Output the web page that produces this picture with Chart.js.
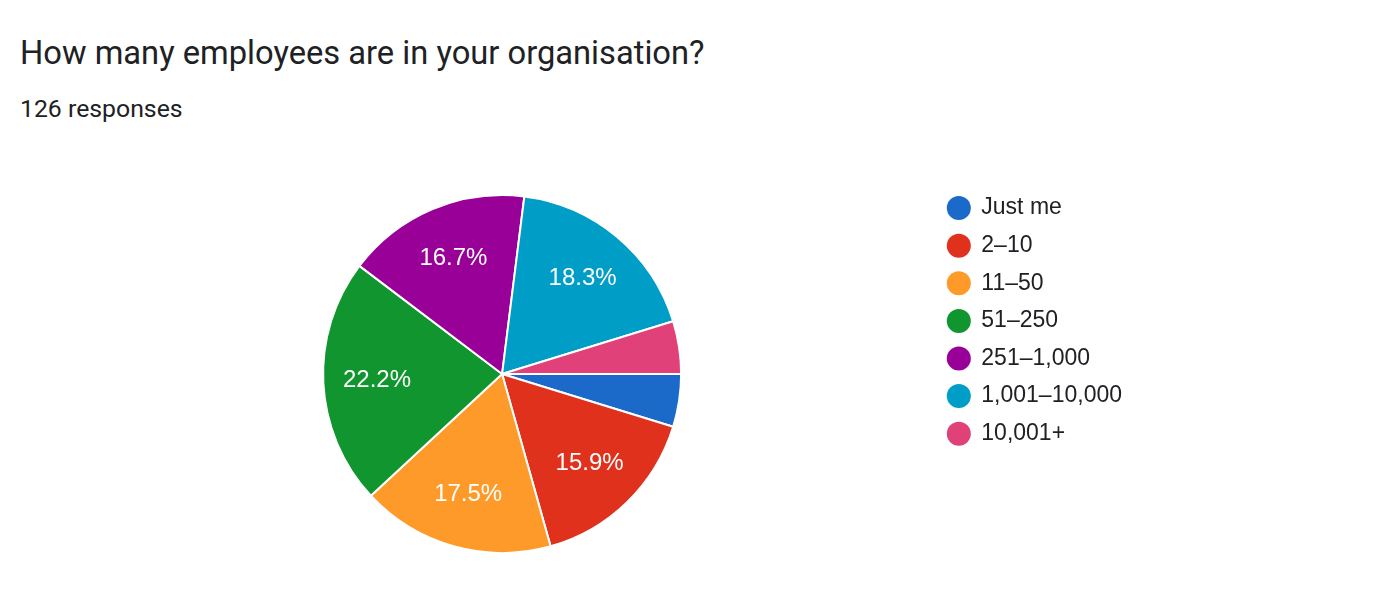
<!DOCTYPE html>
<html>
<head>
<meta charset="utf-8">
<script src="https://cdn.jsdelivr.net/npm/chart.js@4"></script>
<style>
  html, body { margin: 0; padding: 0; background: #fff; }
  body { width: 1390px; height: 596px; position: relative; overflow: hidden; }
  .title, .subtitle { position: absolute; left: 20px; color: #202124; font-family: Roboto, "Noto Sans", sans-serif; line-height: 1; white-space: nowrap; }
  .title { top: 37px; font-size: 32.7px; }
  .subtitle { top: 97.4px; font-size: 24.8px; }
  #chart { position: absolute; left: 0; top: 0; }
</style>
</head>
<body>
  <div class="title">How many employees are in your organisation?</div>
  <div class="subtitle">126 responses</div>
  <canvas id="chart" width="1390" height="596"></canvas>

  <script>
    // Data
    const categories = ["Just me", "2–10", "11–50", "51–250", "251–1,000", "1,001–10,000", "10,001+"];
    const responses = [6, 20, 22, 28, 21, 23, 6];
    const sliceColors = ["#1b69c9", "#e0311c", "#fe9a2a", "#11962f", "#980098", "#009dc6", "#e04178"];

    // Percentage labels inside big slices
    const sliceLabels = {
      id: "sliceLabels",
      afterDatasetsDraw(chart) {
        const { ctx } = chart;
        const values = chart.data.datasets[0].data;
        const total = values.reduce((a, b) => a + b, 0);
        ctx.save();
        ctx.font = "24px 'Liberation Sans', Arial, sans-serif";
        ctx.fillStyle = "#fff";
        ctx.textAlign = "center";
        ctx.textBaseline = "middle";
        chart.getDatasetMeta(0).data.forEach((arc, i) => {
          const pct = values[i] / total * 100;
          if (pct < 5) return;
          const { x, y, startAngle, endAngle, outerRadius } = arc.getProps(["x", "y", "startAngle", "endAngle", "outerRadius"], true);
          const mid = (startAngle + endAngle) / 2;
          const r = outerRadius * 0.7;
          ctx.fillText(pct.toFixed(1) + "%", x + Math.cos(mid) * r, y + Math.sin(mid) * r);
        });
        ctx.restore();
      }
    };

    const ctx = document.getElementById("chart").getContext("2d");
    new Chart(ctx, {
      type: "pie",
      data: {
        labels: categories,
        datasets: [{
          data: responses,
          backgroundColor: sliceColors,
          borderColor: "#fff",
          borderWidth: 2,
          radius: 179,
        }],
      },
      options: {
        responsive: false,
        animation: false,
        rotation: 90,
        layout: { padding: { left: 71, right: 258, top: 182, bottom: 30 } },
        plugins: {
          tooltip: { enabled: false },
          legend: {
            position: "right",
            align: "start",
            labels: {
              usePointStyle: true,
              pointStyle: "circle",
              boxWidth: 22,
              boxHeight: 17,
              padding: 14.6,
              color: "#202124",
              font: { family: "'Liberation Sans', Arial, sans-serif", size: 23 },
              generateLabels(chart) {
                const items = Chart.controllers.pie.overrides.plugins.legend.labels.generateLabels(chart);
                return items.map(it => ({ ...it, lineWidth: 0, strokeStyle: "transparent" }));
              },
            },
          },
        },
      },
      plugins: [sliceLabels],
    });
  </script>
</body>
</html>
